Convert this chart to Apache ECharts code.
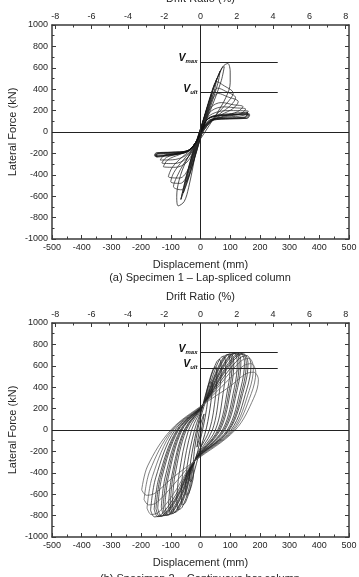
<!DOCTYPE html>
<html>
<head>
<meta charset="utf-8">
<script src="https://cdn.jsdelivr.net/npm/echarts@6/dist/echarts.min.js"></script>
<style>
  html, body { margin: 0; padding: 0; background: #fff; }
  #chart { width: 359px; height: 577px; }
</style>
</head>
<body>
<div id="chart"></div>
<script>
// tick values
const driftTicks = [-8, -6, -4, -2, 0, 2, 4, 6, 8]
const driftMinorTicks = [-7, -5, -3, -1, 1, 3, 5, 7]
const driftLimit = 8.18 // drift (%) at +-500 mm

// reference levels (kN) and where their lines stop (mm)
const s1Vmax = 655
const s1Vult = 368
const s2Vmax = 722
const s2Vult = 578
const refLineEnd = 260

// Specimen 1 - lap-spliced column, [displacement mm, force kN]
const s1PrePeakLoops = [
  [[-10, -100], [-4, -40], [2, 30], [10, 110], [6, 60], [0, -10], [-10, -100]],
  [[-22, -210], [-12, -100], [0, 15], [12, 130], [25, 240], [18, 160], [6, 40], [-8, -90], [-22, -210]],
  [[-35, -340], [-20, -170], [0, 20], [18, 190], [40, 380], [32, 270], [14, 90], [-6, -90], [-22, -230], [-35, -340]],
  [[-48, -470], [-30, -250], [-10, -60], [12, 140], [38, 380], [55, 500], [47, 390], [26, 190], [6, 0], [-18, -220], [-35, -380], [-48, -470]],
  [[-58, -570], [-40, -340], [-15, -100], [10, 110], [42, 400], [66, 570], [58, 450], [33, 230], [8, 20], [-20, -250], [-42, -450], [-58, -570]],
  [[-66, -630], [-45, -380], [-18, -120], [8, 90], [40, 380], [72, 600], [80, 610], [70, 480], [40, 250], [10, 40], [-20, -240], [-46, -470], [-66, -630]],
  [[-66, -630], [-45, -390], [-15, -100], [10, 110], [45, 420], [75, 610], [92, 640], [100, 560], [100, 460], [85, 320], [50, 150], [15, 0],
    [-10, -120], [-25, -320], [-40, -520], [-55, -650], [-75, -690], [-80, -600], [-72, -450], [-50, -280], [-25, -150], [0, -30]]
]
const s1PostPeakLoops = [
  [[0, -40], [15, 120], [35, 330], [55, 470], [75, 440], [110, 362], [95, 290], [60, 180], [25, 70], [0, -40],
    [-20, -200], [-40, -400], [-65, -540], [-91, -511], [-80, -420], [-55, -290], [-30, -190], [-10, -110], [0, -40]],
  [[0, -35], [15, 115], [35, 300], [58, 410], [85, 380], [118, 320], [102, 250], [65, 170], [28, 75], [0, -35],
    [-20, -190], [-40, -370], [-68, -480], [-100, -465], [-90, -380], [-58, -260], [-30, -175], [-10, -100], [0, -35]],
  [[0, -30], [15, 110], [35, 280], [60, 360], [90, 330], [127, 283], [110, 220], [70, 160], [30, 80], [0, -30],
    [-20, -180], [-40, -340], [-70, -430], [-108, -418], [-95, -330], [-60, -230], [-30, -160], [-10, -90], [0, -30]],
  [[0, -20], [15, 110], [35, 230], [70, 275], [110, 255], [143, 237], [125, 190], [80, 150], [35, 100], [0, -20],
    [-20, -150], [-45, -280], [-85, -330], [-125, -324], [-110, -260], [-70, -210], [-35, -170], [-12, -90], [0, -20]],
  [[0, -15], [15, 105], [38, 200], [80, 235], [120, 225], [152, 215], [135, 170], [85, 145], [38, 108], [0, -15],
    [-20, -140], [-48, -250], [-90, -295], [-130, -290], [-115, -238], [-75, -205], [-38, -170], [-12, -85], [0, -15]],
  [[0, -10], [15, 100], [40, 170], [90, 200], [161, 195], [145, 155], [90, 140], [40, 115], [0, -10],
    [-20, -130], [-50, -220], [-95, -260], [-136, -262], [-120, -215], [-80, -200], [-40, -170], [-12, -80], [0, -10]]
]
const s1ResidualLoops = [
  [[0, 0], [20, 110], [45, 145], [100, 160], [160, 178], [152, 135], [100, 128], [40, 118], [10, 40], [-10, -70],
    [-40, -170], [-90, -205], [-150, -230], [-145, -200], [-100, -195], [-45, -180], [-15, -100], [0, 0]],
  [[0, 0], [18, 100], [40, 140], [100, 158], [164, 170], [155, 130], [95, 125], [38, 112], [8, 30], [-12, -80],
    [-42, -180], [-95, -212], [-153, -228], [-148, -198], [-95, -190], [-42, -172], [-14, -90], [0, 0]],
  [[0, 0], [22, 115], [48, 150], [105, 162], [166, 160], [158, 128], [98, 122], [42, 110], [9, 35], [-11, -75],
    [-44, -182], [-98, -210], [-155, -218], [-150, -196], [-98, -188], [-44, -176], [-16, -95], [0, 0]],
  [[0, 0], [19, 105], [42, 150], [95, 170], [158, 185], [150, 140], [92, 132], [36, 120], [7, 30], [-12, -78],
    [-40, -175], [-92, -215], [-148, -235], [-144, -205], [-92, -198], [-40, -178], [-13, -92], [0, 0]]
]

// Specimen 2 - continuous bar column
const s2SmallLoops = [
  [[-12, -160], [-8, -70], [-2, 20], [5, 100], [12, 150], [8, 80], [2, -10], [-5, -90], [-12, -160]],
  [[-25, -330], [-20, -180], [-8, 20], [5, 160], [18, 270], [25, 300], [20, 190], [10, 40], [-3, -120], [-15, -260], [-25, -330]],
  [[-38, -470], [-33, -290], [-14, -10], [5, 200], [22, 380], [34, 450], [40, 430], [35, 260], [20, 20], [-5, -220], [-22, -400], [-33, -480], [-38, -470]]
]
const s2LargeLoops = [
  [[-50, -560], [-45, -336], [-20, 0], [10, 240], [28, 443], [43, 572], [51, 590], [55, 540], [51, 325], [30, 0], [-20, -290], [-25, -458], [-39, -592], [-46, -610], [-50, -560]],
  [[-65, -620], [-59, -385], [-30, 0], [10, 240], [35, 495], [55, 640], [64, 660], [70, 580], [64, 363], [40, 0], [-20, -290], [-33, -525], [-51, -679], [-60, -700], [-65, -620]],
  [[-80, -650], [-72, -410], [-40, 0], [10, 240], [43, 518], [66, 669], [78, 690], [85, 600], [78, 380], [50, 0], [-20, -290], [-40, -559], [-62, -723], [-74, -745], [-80, -650]],
  [[-95, -680], [-86, -424], [-48, 0], [10, 240], [50, 529], [78, 684], [92, 705], [100, 610], [92, 388], [58, 0], [-20, -290], [-48, -578], [-74, -747], [-87, -770], [-95, -680]],
  [[-102, -690], [-92, -428], [-52, 0], [10, 240], [53, 532], [83, 689], [98, 710], [106, 615], [98, 390], [62, 0], [-20, -290], [-51, -584], [-80, -755], [-94, -778], [-102, -690]],
  [[-108, -700], [-97, -432], [-55, 0], [10, 240], [56, 534], [87, 691], [103, 712], [112, 620], [103, 392], [66, 0], [-20, -290], [-54, -589], [-84, -761], [-99, -785], [-108, -700]],
  [[-120, -710], [-108, -437], [-62, 0], [10, 240], [62, 539], [97, 696], [114, 718], [124, 630], [114, 395], [74, 0], [-20, -290], [-60, -596], [-94, -771], [-110, -795], [-120, -710]],
  [[-126, -715], [-113, -439], [-65, 0], [10, 240], [65, 540], [101, 698], [120, 720], [130, 630], [120, 396], [78, 0], [-20, -290], [-63, -599], [-98, -774], [-116, -798], [-126, -715]],
  [[-132, -720], [-119, -440], [-68, 0], [10, 240], [68, 540], [106, 698], [125, 720], [136, 630], [125, 396], [82, 0], [-20, -290], [-66, -600], [-103, -776], [-121, -800], [-132, -720]],
  [[-144, -730], [-130, -443], [-74, 0], [10, 240], [74, 539], [115, 696], [136, 718], [148, 630], [136, 395], [90, 0], [-20, -290], [-72, -604], [-112, -781], [-132, -805], [-144, -730]],
  [[-150, -735], [-135, -444], [-77, 0], [10, 240], [77, 536], [120, 693], [142, 714], [154, 625], [142, 393], [94, 0], [-20, -290], [-75, -606], [-117, -784], [-138, -808], [-150, -735]],
  [[-156, -740], [-140, -446], [-80, 0], [10, 240], [80, 533], [125, 689], [147, 710], [160, 620], [147, 391], [97, 0], [-20, -290], [-78, -608], [-122, -786], [-144, -810], [-156, -740]],
  [[-168, -750], [-151, -447], [-86, 0], [10, 240], [85, 521], [133, 674], [156, 695], [170, 610], [156, 382], [103, 0], [-20, -290], [-84, -609], [-131, -788], [-155, -812], [-168, -750]],
  [[-180, -730], [-162, -435], [-92, 0], [10, 240], [89, 503], [139, 650], [164, 670], [178, 580], [164, 369], [108, 0], [-20, -290], [-90, -593], [-140, -766], [-166, -790], [-180, -730]],
  [[-190, -650], [-171, -385], [-96, 0], [10, 240], [93, 465], [145, 601], [171, 620], [186, 540], [171, 341], [112, 0], [-20, -290], [-95, -525], [-148, -679], [-175, -700], [-190, -650]],
  [[-198, -560], [-178, -336], [-100, 0], [10, 240], [98, 405], [152, 524], [179, 540], [195, 470], [179, 297], [117, 0], [-20, -290], [-99, -458], [-154, -592], [-182, -610], [-198, -560]]
]

const font = 'Liberation Sans, Arial, sans-serif'
const axisColor = '#3a3a3a'
const textColor = '#262626'

function plainNumber(v) {
  return String(v)
}

function xAxesFor(gi) {
  const name = { nameLocation: 'middle', nameTextStyle: { fontSize: 11, color: textColor, fontFamily: font } }
  return [
    Object.assign({
      type: 'value', gridIndex: gi, position: 'bottom', min: -500, max: 500, interval: 100,
      axisLine: { onZero: false, lineStyle: { color: axisColor, width: 1.5 } },
      axisTick: { inside: true, length: 4, lineStyle: { color: axisColor } },
      minorTick: { show: true, splitNumber: 2, length: 2.5, lineStyle: { color: axisColor } },
      axisLabel: { margin: 4, fontSize: 9, color: textColor, fontFamily: font, formatter: plainNumber },
      splitLine: { show: false },
      name: 'Displacement (mm)', nameGap: 20
    }, name),
    Object.assign({
      type: 'value', gridIndex: gi, position: 'top', min: -driftLimit, max: driftLimit,
      axisLine: { onZero: false, lineStyle: { color: axisColor, width: 1.5 } },
      axisTick: { inside: true, length: 4, customValues: driftTicks, lineStyle: { color: axisColor } },
      axisLabel: { margin: 4, fontSize: 9, color: textColor, fontFamily: font, customValues: driftTicks, formatter: plainNumber },
      splitLine: { show: false },
      name: 'Drift Ratio (%)', nameGap: 21
    }, name),
    {
      type: 'value', gridIndex: gi, position: 'top', min: -driftLimit, max: driftLimit,
      axisLine: { show: false, onZero: false },
      axisTick: { inside: true, length: 2.5, customValues: driftMinorTicks, lineStyle: { color: axisColor } },
      axisLabel: { show: false },
      splitLine: { show: false }
    }
  ]
}

function yAxesFor(gi) {
  const base = {
    type: 'value', gridIndex: gi, min: -1000, max: 1000, interval: 200,
    axisLine: { onZero: false, lineStyle: { color: axisColor, width: 1.5 } },
    axisTick: { inside: true, length: 4, lineStyle: { color: axisColor } },
    minorTick: { show: true, splitNumber: 2, length: 2.5, lineStyle: { color: axisColor } },
    splitLine: { show: false }
  }
  return [
    Object.assign({}, base, {
      position: 'left',
      axisLabel: { margin: 4, fontSize: 9, color: textColor, fontFamily: font, formatter: plainNumber },
      name: 'Lateral Force (kN)', nameLocation: 'middle', nameGap: 34, nameRotate: 90, nameMoveOverlap: false,
      nameTextStyle: { fontSize: 11, color: textColor, fontFamily: font }
    }),
    Object.assign({}, base, { position: 'right', axisLabel: { show: false } })
  ]
}

function loopSeries(loops, xi, yi, color) {
  return loops.map(function(d) {
    return {
      type: 'line', xAxisIndex: xi, yAxisIndex: yi, data: d,
      smooth: 0.35, showSymbol: false, silent: true,
      lineStyle: { color: color, width: 0.75 }
    }
  })
}

function vLabel(sub) {
  return {
    show: true, position: 'start', distance: 3, offset: [0, -4],
    formatter: '{v|V}{s|' + sub + '}',
    rich: {
      v: { fontSize: 10.5, fontStyle: 'italic', fontWeight: 'bold', color: '#111', fontFamily: font },
      s: { fontSize: 6, fontStyle: 'italic', fontWeight: 'bold', color: '#111', fontFamily: font, padding: [7, 0, 0, 0] }
    }
  }
}

function refSeries(xi, yi, vmax, vult) {
  return {
    type: 'line', xAxisIndex: xi, yAxisIndex: yi, data: [], silent: true,
    markLine: {
      symbol: 'none', silent: true, animation: false,
      lineStyle: { color: '#222', width: 1, type: 'solid' },
      label: { show: false },
      emphasis: { disabled: true },
      data: [
        { xAxis: 0 },
        { yAxis: 0 },
        [{ coord: [0, vmax], label: vLabel('max') }, { coord: [refLineEnd, vmax] }],
        [{ coord: [0, vult], label: vLabel('ult') }, { coord: [refLineEnd, vult] }]
      ]
    }
  }
}

const chart = echarts.init(document.getElementById('chart'))
chart.setOption({
  animation: false,
  backgroundColor: '#fff',
  grid: [
    { left: 52, right: 10, top: 25, height: 214, containLabel: false, outerBoundsMode: 'none' },
    { left: 52, right: 10, top: 323, height: 214, containLabel: false, outerBoundsMode: 'none' }
  ],
  xAxis: xAxesFor(0).concat(xAxesFor(1)),
  yAxis: yAxesFor(0).concat(yAxesFor(1)),
  graphic: [
    { type: 'text', x: 200, y: 278, style: { text: '(a) Specimen 1 \u2013 Lap-spliced column', fontSize: 11, fill: textColor, fontFamily: font, align: 'center', verticalAlign: 'middle' } },
    { type: 'text', x: 200, y: 579, style: { text: '(b) Specimen 2 \u2013 Continuous bar column', fontSize: 11, fill: textColor, fontFamily: font, align: 'center', verticalAlign: 'middle' } }
  ],
  series: [].concat(
    refSeries(0, 0, s1Vmax, s1Vult),
    loopSeries(s1PrePeakLoops, 0, 0, '#1a1a1a'),
    loopSeries(s1PostPeakLoops, 0, 0, '#2a2a2a'),
    loopSeries(s1ResidualLoops, 0, 0, '#111'),
    refSeries(3, 2, s2Vmax, s2Vult),
    loopSeries(s2SmallLoops, 3, 2, '#111'),
    loopSeries(s2LargeLoops.slice(0, 13), 3, 2, '#222'),
    loopSeries(s2LargeLoops.slice(13), 3, 2, '#555')
  )
})
</script>
</body>
</html>
